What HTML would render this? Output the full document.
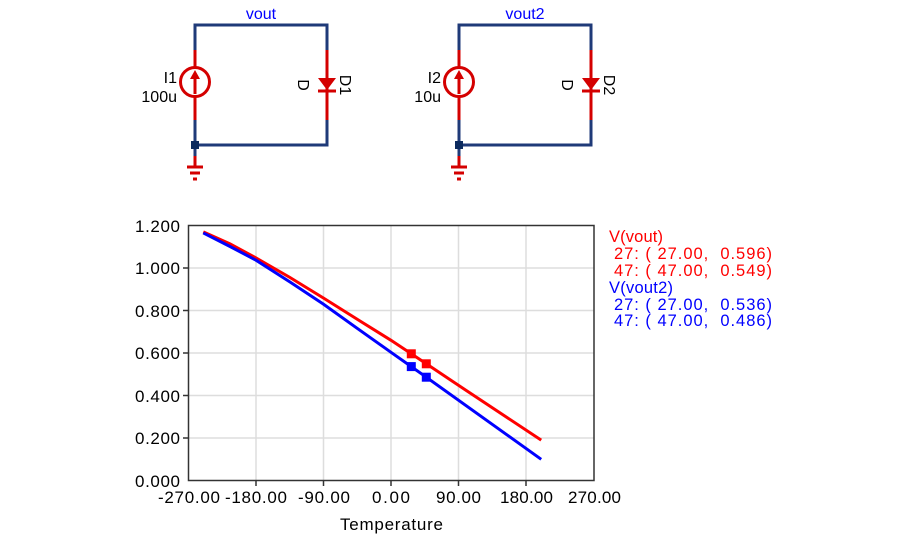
<!DOCTYPE html>
<html><head><meta charset="utf-8"><style>
html,body{margin:0;padding:0;background:#fff;}
svg{display:block;font-family:"Liberation Sans",Arial,sans-serif;}
.pre{white-space:pre;}
</style></head><body>
<svg width="900" height="540" viewBox="0 0 900 540">
<!-- Circuit 1 -->
<g fill="none" stroke-width="3">
<polyline points="195,50 195,25 327,25 327,50" stroke="#1f3a78"/>
<polyline points="195,120 195,145 327,145 327,120" stroke="#1f3a78"/>
<line x1="195" y1="145" x2="195" y2="156" stroke="#1f3a78"/>
<line x1="195" y1="50" x2="195" y2="120" stroke="#d40000"/>
<line x1="327" y1="50" x2="327" y2="120" stroke="#d40000"/>
<circle cx="195" cy="82" r="14.5" fill="#fff" stroke="#d40000"/>
<line x1="195" y1="94" x2="195" y2="74" stroke="#d40000"/>
<line x1="195" y1="156" x2="195" y2="166" stroke="#d40000"/>
<line x1="187" y1="167" x2="203" y2="167" stroke="#d40000"/>
<line x1="190" y1="173" x2="200" y2="173" stroke="#d40000"/>
<line x1="193" y1="179" x2="197" y2="179" stroke="#d40000"/>
</g>
<polygon points="195,70 190,79 200,79" fill="#d40000"/>
<polygon points="318,78 336,78 327,90" fill="#d40000"/>
<line x1="318" y1="91" x2="336" y2="91" stroke="#d40000" stroke-width="3"/>
<rect x="191" y="141" width="8" height="8" fill="#0b2a5e"/>
<text x="261" y="19" font-size="16" fill="#0000ff" text-anchor="middle">vout</text>
<text x="177" y="83" font-size="16" text-anchor="end">I1</text>
<text x="177" y="102" font-size="16" text-anchor="end">100u</text>
<text transform="translate(298,85) rotate(90)" font-size="16" text-anchor="middle">D</text>
<text transform="translate(340,85) rotate(90)" font-size="16" text-anchor="middle">D1</text>
<!-- Circuit 2 -->
<g fill="none" stroke-width="3">
<polyline points="459,50 459,25 591,25 591,50" stroke="#1f3a78"/>
<polyline points="459,120 459,145 591,145 591,120" stroke="#1f3a78"/>
<line x1="459" y1="145" x2="459" y2="156" stroke="#1f3a78"/>
<line x1="459" y1="50" x2="459" y2="120" stroke="#d40000"/>
<line x1="591" y1="50" x2="591" y2="120" stroke="#d40000"/>
<circle cx="459" cy="82" r="14.5" fill="#fff" stroke="#d40000"/>
<line x1="459" y1="94" x2="459" y2="74" stroke="#d40000"/>
<line x1="459" y1="156" x2="459" y2="166" stroke="#d40000"/>
<line x1="451" y1="167" x2="467" y2="167" stroke="#d40000"/>
<line x1="454" y1="173" x2="464" y2="173" stroke="#d40000"/>
<line x1="457" y1="179" x2="461" y2="179" stroke="#d40000"/>
</g>
<polygon points="459,70 454,79 464,79" fill="#d40000"/>
<polygon points="582,78 600,78 591,90" fill="#d40000"/>
<line x1="582" y1="91" x2="600" y2="91" stroke="#d40000" stroke-width="3"/>
<rect x="455" y="141" width="8" height="8" fill="#0b2a5e"/>
<text x="525" y="19" font-size="16" fill="#0000ff" text-anchor="middle">vout2</text>
<text x="441" y="83" font-size="16" text-anchor="end">I2</text>
<text x="441" y="102" font-size="16" text-anchor="end">10u</text>
<text transform="translate(562,85) rotate(90)" font-size="16" text-anchor="middle">D</text>
<text transform="translate(604,85) rotate(90)" font-size="16" text-anchor="middle">D2</text>

<!-- Plot grid -->
<g stroke="#dddddd" stroke-width="1.5">
<line x1="256" y1="226" x2="256" y2="480"/><line x1="323.5" y1="226" x2="323.5" y2="480"/>
<line x1="391" y1="226" x2="391" y2="480"/><line x1="458.5" y1="226" x2="458.5" y2="480"/>
<line x1="526" y1="226" x2="526" y2="480"/>
<line x1="189" y1="268" x2="594" y2="268"/><line x1="189" y1="310.5" x2="594" y2="310.5"/>
<line x1="189" y1="353" x2="594" y2="353"/><line x1="189" y1="395.5" x2="594" y2="395.5"/>
<line x1="189" y1="438" x2="594" y2="438"/>
</g>
<rect x="188.5" y="225.5" width="405.5" height="255" fill="none" stroke="#333" stroke-width="1.5"/>
<g stroke="#333" stroke-width="1.5">
<line x1="256" y1="480" x2="256" y2="486"/><line x1="323.5" y1="480" x2="323.5" y2="486"/>
<line x1="391" y1="480" x2="391" y2="486"/><line x1="458.5" y1="480" x2="458.5" y2="486"/>
<line x1="526" y1="480" x2="526" y2="486"/>
<line x1="183" y1="268" x2="189" y2="268"/><line x1="183" y1="310.5" x2="189" y2="310.5"/>
<line x1="183" y1="353" x2="189" y2="353"/><line x1="183" y1="395.5" x2="189" y2="395.5"/>
<line x1="183" y1="438" x2="189" y2="438"/>
</g>
<g font-size="17" fill="#000">
<text x="135" y="232" textLength="45">1.200</text><text x="135" y="274" textLength="45">1.000</text>
<text x="135" y="317" textLength="45">0.800</text><text x="135" y="359" textLength="45">0.600</text>
<text x="135" y="402" textLength="45">0.400</text><text x="135" y="444" textLength="45">0.200</text>
<text x="135" y="487" textLength="45">0.000</text>
</g>
<g font-size="17" fill="#000">
<text x="158" y="503" textLength="62">-270.00</text><text x="225" y="503" textLength="62">-180.00</text>
<text x="298" y="503" textLength="52">-90.00</text><text x="372" y="503" textLength="38">0.00</text>
<text x="436" y="503" textLength="45">90.00</text><text x="500" y="503" textLength="53">180.00</text>
<text x="568" y="503" textLength="53">270.00</text>
<text x="340" y="530" textLength="103">Temperature</text>
</g>
<polyline fill="none" stroke="#ff0000" stroke-width="3" points="203.3,231.9 230,243.8 255.8,257.8 290,277.5 323.4,298 360,321 391,340.3 411.3,353.8 426.3,363.8 466.1,390.4 541.2,440.1"/>
<polyline fill="none" stroke="#0000ff" stroke-width="3" points="203.3,232.9 230,246.5 255.8,260.1 290,282 323.4,304.1 357,328.2 391,352.3 411.3,366.6 426.3,377.2 541.2,459.3"/>
<rect x="406.8" y="349.3" width="9" height="9" fill="#ff0000"/>
<rect x="421.8" y="359.3" width="9" height="9" fill="#ff0000"/>
<rect x="406.8" y="362.1" width="9" height="9" fill="#0000ff"/>
<rect x="421.8" y="372.7" width="9" height="9" fill="#0000ff"/>
<g font-size="16.5">
<text x="609" y="242" fill="#ff0000" textLength="54">V(vout)</text>
<text x="614" y="259" fill="#ff0000" class="pre" textLength="158">27: ( 27.00,  0.596)</text>
<text x="614" y="276" fill="#ff0000" class="pre" textLength="158">47: ( 47.00,  0.549)</text>
<text x="609" y="293" fill="#0000ff" textLength="64">V(vout2)</text>
<text x="614" y="310" fill="#0000ff" class="pre" textLength="158">27: ( 27.00,  0.536)</text>
<text x="614" y="326" fill="#0000ff" class="pre" textLength="158">47: ( 47.00,  0.486)</text>
</g>
</svg>
</body></html>
